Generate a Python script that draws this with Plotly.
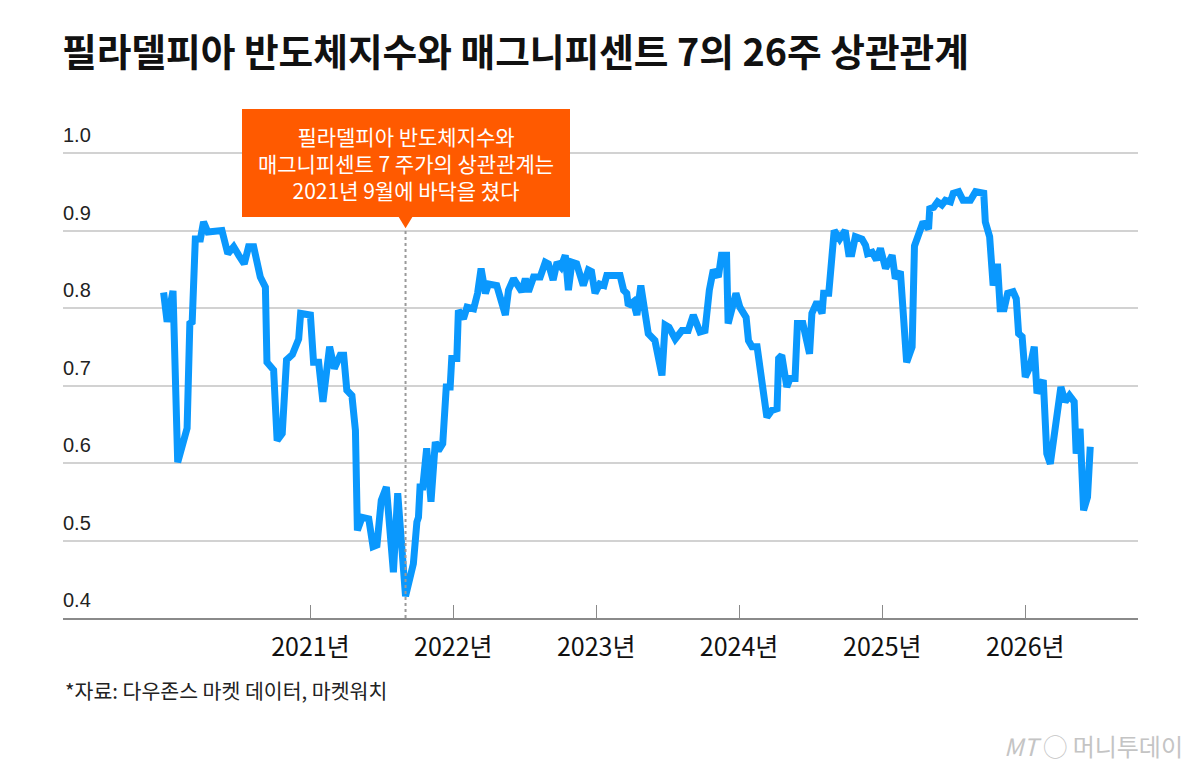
import plotly.graph_objects as go

# ---- data ----
dates = [
    "2019-12-23", "2020-01-01", "2020-01-16", "2020-01-28", "2020-02-21", "2020-02-28",
    "2020-03-05", "2020-03-13", "2020-03-26", "2020-04-03", "2020-04-14", "2020-05-20",
    "2020-06-04", "2020-06-19", "2020-07-02", "2020-07-16", "2020-07-27", "2020-08-09",
    "2020-08-26", "2020-09-08", "2020-09-12", "2020-09-29", "2020-10-08", "2020-10-21",
    "2020-11-01", "2020-11-16", "2020-12-02", "2020-12-07", "2021-01-01", "2021-01-09",
    "2021-01-22", "2021-02-02", "2021-02-19", "2021-03-03", "2021-03-18", "2021-03-27",
    "2021-04-04", "2021-04-17", "2021-04-26", "2021-05-01", "2021-05-13", "2021-05-30",
    "2021-06-10", "2021-06-20", "2021-07-01", "2021-07-14", "2021-08-01", "2021-08-12",
    "2021-09-01", "2021-09-21", "2021-09-30", "2021-10-04", "2021-10-08", "2021-10-15",
    "2021-10-25", "2021-11-05", "2021-11-16", "2021-11-24", "2021-12-05", "2021-12-14",
    "2021-12-24", "2021-12-28", "2022-01-10", "2022-01-14", "2022-01-27", "2022-02-05",
    "2022-02-22", "2022-03-04", "2022-03-13", "2022-03-24", "2022-04-01", "2022-04-22",
    "2022-05-14", "2022-05-22", "2022-06-04", "2022-06-25", "2022-07-04", "2022-07-12",
    "2022-07-25", "2022-08-11", "2022-08-24", "2022-09-01", "2022-09-13", "2022-09-23",
    "2022-10-03", "2022-10-14", "2022-10-22", "2022-10-31", "2022-11-12", "2022-11-29",
    "2022-12-12", "2022-12-20", "2022-12-29", "2023-01-10", "2023-01-21", "2023-01-28",
    "2023-03-03", "2023-03-12", "2023-03-20", "2023-03-24", "2023-04-06", "2023-04-15",
    "2023-04-25", "2023-05-06", "2023-05-14", "2023-05-31", "2023-06-18", "2023-06-26",
    "2023-07-06", "2023-07-22", "2023-08-08", "2023-08-24", "2023-09-06", "2023-09-23",
    "2023-10-06", "2023-10-17", "2023-10-27", "2023-11-09", "2023-11-17", "2023-11-30",
    "2023-12-04", "2023-12-24", "2024-01-03", "2024-01-19", "2024-01-25", "2024-02-03",
    "2024-02-16", "2024-03-12", "2024-03-25", "2024-04-07", "2024-04-11", "2024-04-19",
    "2024-05-02", "2024-05-10", "2024-05-23", "2024-05-29", "2024-06-12", "2024-06-29",
    "2024-07-05", "2024-07-18", "2024-07-31", "2024-08-04", "2024-08-17", "2024-08-31",
    "2024-09-14", "2024-09-28", "2024-10-07", "2024-10-15", "2024-10-24", "2024-11-10",
    "2024-11-19", "2024-11-24", "2024-12-06", "2024-12-17", "2024-12-27", "2025-01-09",
    "2025-01-26", "2025-02-03", "2025-02-16", "2025-03-04", "2025-03-18", "2025-03-24",
    "2025-04-08", "2025-04-15", "2025-04-29", "2025-05-02", "2025-05-12", "2025-05-22",
    "2025-06-02", "2025-06-11", "2025-06-24", "2025-07-01", "2025-07-15", "2025-07-26",
    "2025-08-14", "2025-08-27", "2025-09-17", "2025-09-21", "2025-10-02", "2025-10-11",
    "2025-10-22", "2025-10-29", "2025-11-08", "2025-11-17", "2025-12-01", "2025-12-09",
    "2025-12-15", "2025-12-24", "2026-01-01", "2026-01-13", "2026-01-24", "2026-01-31",
    "2026-02-16", "2026-02-25", "2026-03-06", "2026-03-19", "2026-04-02", "2026-04-13",
    "2026-04-24", "2026-05-06", "2026-05-11", "2026-05-21", "2026-05-30", "2026-06-09",
    "2026-06-16",
]
correlation = [
    0.820, 0.782, 0.822, 0.601, 0.645, 0.780,
    0.782, 0.889, 0.889, 0.911, 0.898, 0.900,
    0.870, 0.879, 0.868, 0.857, 0.879, 0.879,
    0.840, 0.827, 0.730, 0.720, 0.629, 0.638,
    0.733, 0.740, 0.760, 0.793, 0.791, 0.730,
    0.730, 0.679, 0.750, 0.722, 0.739, 0.739,
    0.694, 0.687, 0.642, 0.513, 0.530, 0.528,
    0.492, 0.494, 0.552, 0.569, 0.459, 0.561,
    0.428, 0.470, 0.524, 0.530, 0.569, 0.569,
    0.619, 0.550, 0.627, 0.616, 0.625, 0.698,
    0.698, 0.735, 0.735, 0.797, 0.786, 0.801,
    0.799, 0.819, 0.851, 0.819, 0.831, 0.829,
    0.791, 0.823, 0.838, 0.821, 0.838, 0.821,
    0.840, 0.840, 0.859, 0.857, 0.836, 0.859,
    0.853, 0.868, 0.823, 0.859, 0.857, 0.829,
    0.849, 0.847, 0.819, 0.831, 0.829, 0.842,
    0.842, 0.823, 0.819, 0.803, 0.808, 0.791,
    0.829, 0.788, 0.767, 0.758, 0.713, 0.778,
    0.775, 0.760, 0.771, 0.771, 0.791, 0.769,
    0.771, 0.823, 0.849, 0.840, 0.868, 0.868,
    0.780, 0.819, 0.801, 0.788, 0.758, 0.750,
    0.750, 0.659, 0.668, 0.670, 0.735, 0.739,
    0.698, 0.709, 0.709, 0.780, 0.780, 0.741,
    0.793, 0.808, 0.793, 0.819, 0.819, 0.900,
    0.889, 0.900, 0.870, 0.870, 0.892, 0.889,
    0.881, 0.870, 0.872, 0.862, 0.877, 0.851,
    0.868, 0.838, 0.847, 0.730, 0.750, 0.880,
    0.905, 0.911, 0.902, 0.928, 0.930, 0.937,
    0.933, 0.939, 0.937, 0.948, 0.950, 0.939,
    0.939, 0.950, 0.948, 0.911, 0.892, 0.829,
    0.857, 0.799, 0.799, 0.819, 0.821, 0.812,
    0.767, 0.763, 0.711, 0.724, 0.750, 0.690,
    0.707, 0.612, 0.599, 0.642, 0.698, 0.679,
    0.687, 0.679, 0.612, 0.644, 0.539, 0.556,
    0.621,
]

year_ticks = ["2021-01-01", "2022-01-01", "2023-01-01", "2024-01-01", "2025-01-01", "2026-01-01"]
year_labels = ["2021년", "2022년", "2023년", "2024년", "2025년", "2026년"]
y_ticks = [0.4, 0.5, 0.6, 0.7, 0.8, 0.9, 1.0]
y_labels = ["0.4", "0.5", "0.6", "0.7", "0.8", "0.9", "1.0"]

title_text = "필라델피아 반도체지수와 매그니피센트 7의 26주 상관관계"
callout_date = "2021-09-01"
callout_text = "필라델피아 반도체지수와<br>매그니피센트 7 주가의 상관관계는<br>2021년 9월에 바닥을 쳤다"
source_text = "*자료: 다우존스 마켓 데이터, 마켓워치"

KR = "Noto Sans CJK KR"
LAT = "Liberation Sans, Arial, Noto Sans CJK KR"
ORANGE = "#FF5A00"
BLUE = "#0A98FD"

# plot area: bottom at y=617.7 px, 775 px per 1.0 unit; top extended so that the 1.0 label fits
Y_MIN, Y_MAX = 0.4, 1.04
PLOT_H = (Y_MAX - Y_MIN) * 775.0
BOTTOM_PX = 617.7


def py(pixel_y):
    """convert a page pixel row into a paper fraction of the plot area"""
    return (BOTTOM_PX - pixel_y) / PLOT_H


fig = go.Figure()
fig.add_trace(go.Scatter(
    x=dates, y=correlation, mode="lines",
    line=dict(color=BLUE, width=7),
    hoverinfo="skip", showlegend=False,
))

fig.update_layout(
    width=1200, height=767,
    margin=dict(l=63, r=62, t=round(BOTTOM_PX - PLOT_H), b=round(767 - BOTTOM_PX)),
    paper_bgcolor="white", plot_bgcolor="white",
    showlegend=False,
    title=dict(
        text=title_text, xref="container", yref="container",
        x=62 / 1200, xanchor="left", y=1 - 53 / 767, yanchor="middle",
        font=dict(family=KR, size=37.7, color="#111111", weight="bold"),
    ),
    xaxis=dict(
        type="date", range=["2019-04-10", "2026-10-16"],
        tickvals=year_ticks, ticktext=year_labels,
        showgrid=False, zeroline=False,
        showline=True, linecolor="#8a8a8a", linewidth=2,
        ticks="inside", ticklen=13, tickwidth=1, tickcolor="#8a8a8a",
        tickfont=dict(family=KR, size=25, color="#111111"),
        ticklabelstandoff=6,
    ),
    yaxis=dict(
        range=[Y_MIN, Y_MAX], tickvals=y_ticks, ticktext=y_labels,
        showgrid=True, gridcolor="#d2d2d2", gridwidth=1.5,
        zeroline=False, showline=False, ticks="",
        ticklabelposition="inside top", ticklabelstandoff=-3, ticklabelshift=-4,
        tickfont=dict(family=LAT, size=20, color="#222222"),
    ),
)

# callout box, pointer and dashed guide line
box_bottom = py(217)
fig.add_annotation(
    x=callout_date, xref="x", y=box_bottom, yref="paper",
    xanchor="center", yanchor="bottom",
    text=callout_text, showarrow=False,
    width=328, height=108, bgcolor=ORANGE, borderpad=0, borderwidth=0,
    align="center", valign="middle",
    font=dict(family=KR, size=21, color="white"),
)
fig.add_shape(
    type="path", xref="x", yref="paper",
    xsizemode="pixel", ysizemode="pixel",
    xanchor=callout_date, yanchor=box_bottom,
    path="M -7,0.5 L 7,0.5 L 0,-11 Z",
    fillcolor=ORANGE, line=dict(width=0),
)
fig.add_shape(
    type="line", xref="x", yref="paper",
    x0=callout_date, x1=callout_date, y0=0.0, y1=py(229),
    line=dict(color="#9a9a9a", width=2, dash="3px,3px"),
)

fig.add_annotation(
    text=source_text, xref="paper", yref="paper",
    x=0.0, y=py(690), xanchor="left", yanchor="middle",
    showarrow=False, font=dict(family=KR, size=20.5, color="#222222"),
)
fig.add_annotation(
    text="<i>MT</i> ◯ 머니투데이", xref="paper", yref="paper",
    x=(1185 - 63) / 1075, y=py(745), xanchor="right", yanchor="middle",
    showarrow=False, font=dict(family=KR, size=24, color="#c4c4c4"),
)

fig.write_html("out.html")
